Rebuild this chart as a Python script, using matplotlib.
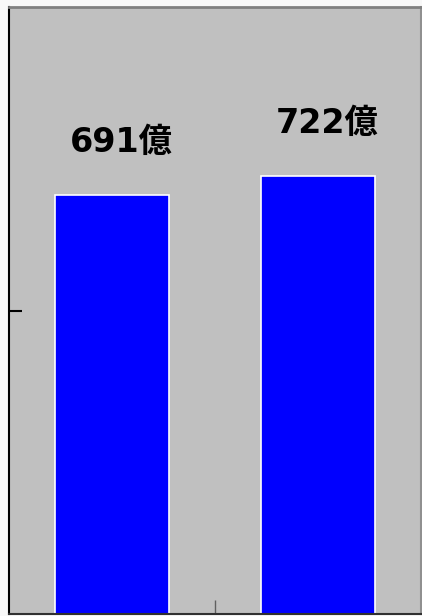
import matplotlib.pyplot as plt

plt.rcParams['font.family'] = ['DejaVu Sans', 'Noto Sans CJK JP']

categories = ["A", "B"]
values = [691, 722]
labels = ["691億", "722億"]

fig = plt.figure(figsize=(4.22, 6.16), dpi=100, facecolor="#f8f8f8")
ax = fig.add_axes([9 / 422, 2 / 616, 412 / 422, 607 / 616])
ax.set_facecolor("#c0c0c0")

pos = range(len(values))
ax.bar(pos, values, width=0.55, color="#0000ff", edgecolor="white", linewidth=1.2)

# value labels above the bars
for i, (v, lab) in enumerate(zip(values, labels)):
    ax.text(i + 0.045, v + 86, lab, ha="center", va="center",
            fontsize=24, fontweight="bold", color="black")

ax.set_xlim(-0.5, 1.5)
ax.set_ylim(0, 1000)
ax.set_xticks([0.5])
ax.set_xticklabels([])
ax.set_yticks([500])
ax.set_yticklabels([])
ax.tick_params(axis="y", direction="in", length=9, width=1.5, color="black")
ax.tick_params(axis="x", direction="in", length=10, width=1, color="#606060")

ax.spines["left"].set_color("black")
ax.spines["left"].set_linewidth(1.5)
ax.spines["bottom"].set_color("#303030")
ax.spines["bottom"].set_linewidth(1.5)
ax.spines["top"].set_color("#808080")
ax.spines["top"].set_linewidth(2)
ax.spines["right"].set_color("#909090")
ax.spines["right"].set_linewidth(1.5)

fig.savefig("out.png", dpi=100, facecolor=fig.get_facecolor())
